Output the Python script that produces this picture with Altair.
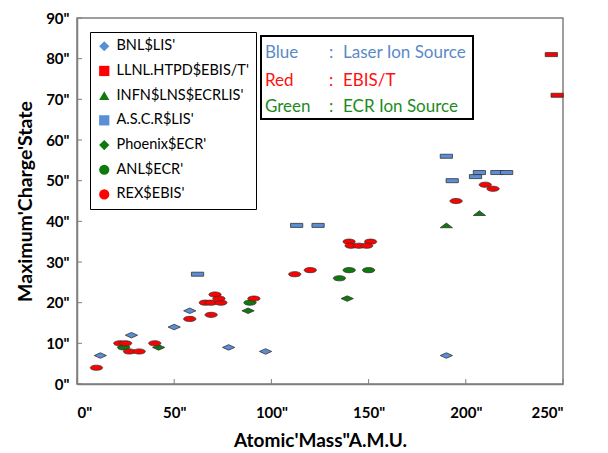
import altair as alt
import pandas as pd

# ---------------- data ----------------
series = ["BNL$LIS'", "LLNL.HTPD$EBIS/T'", "INFN$LNS$ECRLIS'", "A.S.C.R$LIS'",
          "Phoenix$ECR'", "ANL$ECR'", "REX$EBIS'"]
colors = ["#5B8ED6", "#FF0000", "#0E7A0E", "#5B8ED6", "#0E7A0E", "#0E7A0E", "#FF0000"]

bnl_x = [12, 28, 50, 58, 78, 97, 190]
bnl_y = [7, 12, 14, 18, 9, 8, 7]
llnl_x = [244, 247]
llnl_y = [81, 71]
infn_x = [190, 207]
infn_y = [39, 42]
ascr_x = [62, 113, 124, 190, 193, 205, 207, 216, 221]
ascr_y = [27, 39, 39, 56, 50, 51, 52, 52, 52]
phoenix_x = [42, 88, 139]
phoenix_y = [9, 18, 21]
anl_x = [24, 89, 135, 140, 150]
anl_y = [9, 20, 26, 28, 28]
rex_x = [10, 22, 25, 27, 32, 40, 58, 66, 69, 74, 71, 73, 69, 91, 112, 120,
         140, 151, 141, 145, 149, 195, 210, 214]
rex_y = [4, 10, 10, 8, 8, 10, 16, 20, 20, 20, 22, 21, 17, 21, 27, 28,
         35, 35, 34, 34, 34, 45, 49, 48]

xticks = [0, 50, 100, 150, 200, 250]
yticks = [0, 10, 20, 30, 40, 50, 60, 70, 80, 90]

note_words = ["Blue", "Red", "Green"]
note_desc = ["Laser Ion Source", "EBIS/T", "ECR Ion Source"]
note_colors = ["#5A8AC8", "#FF1010", "#1E8A1E"]

x_title = "Atomic'Mass\"A.M.U."
y_title = "Maximum'Charge'State"

# ---------------- table ----------------
xs = [bnl_x, llnl_x, infn_x, ascr_x, phoenix_x, anl_x, rex_x]
ys = [bnl_y, llnl_y, infn_y, ascr_y, phoenix_y, anl_y, rex_y]
rows = []
for name, sx, sy in zip(series, xs, ys):
    for a, b in zip(sx, sy):
        rows.append({"series": name, "mass": a, "charge": b})
df = pd.DataFrame(rows)

# flattened marker shapes (the original plot is horizontally stretched)
diamond_flat = "M-1,0L0,-0.45L1,0L0,0.45Z"
rect_flat = "M-1,-0.33L1,-0.33L1,0.33L-1,0.33Z"
tri_flat = "M-1,0.38L0,-0.38L1,0.38Z"
ellipse_flat = "M-1,0A1,0.42,0,1,1,1,0A1,0.42,0,1,1,-1,0Z"
plot_shapes = [diamond_flat, rect_flat, tri_flat, rect_flat, diamond_flat,
               ellipse_flat, ellipse_flat]
legend_shapes = ["diamond", "square", "triangle-up", "square", "diamond",
                 "circle", "circle"]

W, H = 486, 366
FONT = "Lato"

legend = alt.Legend(
    title=None, orient="none", legendX=13, legendY=14,
    padding=7, rowPadding=9.7, labelFont=FONT, labelFontSize=14.5,
    labelColor="black", labelOffset=5, symbolSize=105, symbolOpacity=1,
    symbolStrokeColor="#333333", symbolStrokeWidth=0.8,
    strokeColor="black", fillColor="white",
)

xscale = alt.Scale(domain=[0, 250], nice=False, zero=False)
yscale = alt.Scale(domain=[0, 90], nice=False, zero=False)

xaxis = alt.Axis(values=xticks, title=x_title, ticks=False, grid=False,
                 labelPadding=21, titlePadding=11, titleFontSize=19,
                 labelExpr="datum.value + '\"'")
yaxis = alt.Axis(values=yticks, title=y_title, ticks=False, grid=False,
                 labelPadding=8, titlePadding=10, titleFontSize=19.5,
                 labelExpr="datum.value + '\"'")

points = alt.Chart(df).mark_point(
    filled=True, size=150, opacity=1, stroke="#333333", strokeWidth=0.8
).encode(
    x=alt.X("mass:Q", scale=xscale, axis=xaxis),
    y=alt.Y("charge:Q", scale=yscale, axis=yaxis),
    color=alt.Color("series:N", scale=alt.Scale(domain=series, range=colors),
                    legend=None),
    shape=alt.Shape("series:N", scale=alt.Scale(domain=series, range=plot_shapes),
                    legend=None),
)

# invisible proxy layer that only supplies the legend with un-stretched symbols
legend_layer = alt.Chart(df).mark_point(
    filled=True, size=0, opacity=1
).encode(
    x=alt.X("mass:Q", scale=xscale),
    y=alt.Y("charge:Q", scale=yscale),
    color=alt.Color("series:N", scale=alt.Scale(domain=series, range=colors),
                    legend=legend),
    shape=alt.Shape("series:N", scale=alt.Scale(domain=series, range=legend_shapes),
                    legend=legend),
)

ytick_layer = alt.Chart(pd.DataFrame({"v": yticks})).mark_rule(
    color="#7F7F7F", strokeWidth=1
).encode(y=alt.Y("v:Q", scale=yscale), x=alt.value(0), x2=alt.value(5))

xtick_layer = alt.Chart(pd.DataFrame({"v": xticks})).mark_rule(
    color="#7F7F7F", strokeWidth=1
).encode(x=alt.X("v:Q", scale=xscale), y=alt.value(H), y2=alt.value(H - 5))

note_box = alt.Chart(pd.DataFrame({"k": [0]})).mark_rect(
    fill="white", stroke="black", strokeWidth=2
).encode(x=alt.value(184), x2=alt.value(396), y=alt.value(18), y2=alt.value(101))

note_layers = []
line_y = [35, 63, 89]
for word, desc, col, ly in zip(note_words, note_desc, note_colors, line_y):
    d = pd.DataFrame({"word": [word], "colon": [":"], "desc": [desc]})
    base = alt.Chart(d).mark_text(font=FONT, fontSize=17, color=col, align="left",
                                  baseline="middle")
    note_layers.append(base.encode(text="word:N", x=alt.value(188), y=alt.value(ly)))
    note_layers.append(base.encode(text="colon:N", x=alt.value(252), y=alt.value(ly)))
    note_layers.append(base.encode(text="desc:N", x=alt.value(266), y=alt.value(ly)))

chart = alt.layer(
    xtick_layer, ytick_layer, points, legend_layer, note_box, *note_layers
).resolve_scale(
    color="independent", shape="independent"
).properties(
    width=W, height=H, background="white",
    autosize=alt.AutoSizeParams(type="none"),
    padding={"left": 69, "top": 10, "right": 30, "bottom": 68},
).configure_view(
    stroke="#7F7F7F", strokeWidth=1.5
).configure_axis(
    domainColor="#7F7F7F", domainWidth=1.5,
    labelFont=FONT, labelFontSize=15, labelFontWeight="bold", labelColor="black",
    titleFont=FONT, titleFontWeight="bold", titleColor="black",
)

chart.save("out.html", embed_options={"renderer": "svg", "actions": False})
